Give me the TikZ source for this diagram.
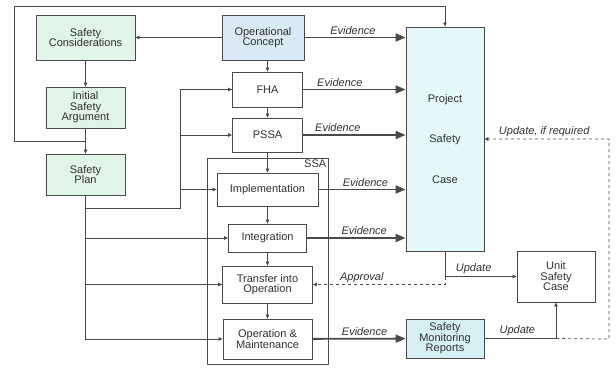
\documentclass[tikz,border=0pt]{standalone}
\usepackage{fontspec}
\setmainfont{Liberation Sans}
\usetikzlibrary{arrows.meta}
\definecolor{linegrey}{HTML}{4A4A4A}
\definecolor{textgrey}{HTML}{303030}
\definecolor{safegreen}{HTML}{E1F4E8}
\definecolor{conceptblue}{HTML}{DAEAF5}
\definecolor{casecyan}{HTML}{E4F8FB}
\definecolor{reportcyan}{HTML}{D6F0F5}
\begin{document}
\begin{tikzpicture}[
  x=1pt, y=-1pt,
  font=\fontsize{11}{10.5}\selectfont, text=textgrey,
  box/.style={draw=linegrey, line width=0.8pt, align=center, inner sep=1pt},
  flow/.style={draw=linegrey, line width=0.7pt, -{Triangle[length=4pt,width=3.5pt]}},
  evid/.style={draw=linegrey, line width=1.8pt, -{Triangle[length=10pt,width=8pt]}},
  upd/.style={draw=linegrey, line width=0.7pt, dashed, -{Triangle[length=4pt,width=3.5pt]}},
  lbl/.style={font=\fontsize{11}{11}\selectfont\itshape, inner sep=2pt}
]
\useasboundingbox (0,0) rectangle (616,367);

\node[box, fill=safegreen, minimum width=99, minimum height=45] (safcon) at (85.5,37.5) {Safety\\Considerations};
\node[box, fill=safegreen, minimum width=79, minimum height=41] (isa) at (85.5,107.5) {Initial\\Safety\\Argument};
\node[box, fill=safegreen, minimum width=79, minimum height=41] (splan) at (85.5,174.5) {Safety\\Plan};

\node[box, fill=conceptblue, minimum width=82, minimum height=45] (opcon) at (263,37.5) {Operational\\Concept};
\node[box, minimum width=70, minimum height=35] (fha) at (267.5,89.5) {FHA};
\node[box, minimum width=70, minimum height=34] (pssa) at (267.5,135) {PSSA};

\node[box, minimum width=121, minimum height=206] (ssa) at (267.5,261) {};
\node[anchor=north east, inner sep=2pt] at (ssa.north east) {SSA};
\node[box, minimum width=101, minimum height=33] (impl) at (267.5,189.5) {Implementation};
\node[box, minimum width=78, minimum height=28] (integ) at (267.5,238) {Integration};
\node[box, minimum width=90, minimum height=37] (transfer) at (267.5,284.5) {Transfer into\\Operation};
\node[box, minimum width=89, minimum height=40] (om) at (267.5,339) {Operation \&\\Maintenance};

\node[box, fill=casecyan, minimum width=78, minimum height=224, align=center] (psc) at (445,139) {Project\\[30pt]Safety\\[30pt]Case};
\node[box, minimum width=78, minimum height=51] (usc) at (556,276.5) {Unit\\Safety\\Case};
\node[box, fill=reportcyan, minimum width=78, minimum height=39] (smr) at (445,338.5) {Safety\\Monitoring\\Reports};

\coordinate (loopjoin) at (85.5,141);
\coordinate (loopcorner) at (14,6);
\coordinate (planbus) at (180,208);
\coordinate (approval) at (445,284.5);
\coordinate (ifreq) at (609,339);

% left-hand chain
\draw[flow] (opcon) -- (safcon);
\draw[flow] (safcon) -- (isa);
\draw[flow] (isa) -- (splan);
\draw[flow] (loopjoin) -| (loopcorner) -| (psc.north);

% development chain
\draw[flow] (opcon.south -| fha) -- (fha);
\draw[flow] (fha) -- (pssa);
\draw[flow] (pssa) -- (impl);
\draw[flow] (impl) -- (integ);
\draw[flow] (integ) -- (transfer);
\draw[flow] (transfer) -- (om);

% safety plan feeds
\draw[flow] (splan.south |- planbus) -- (planbus) |- (fha.west);
\draw[flow] (planbus |- pssa) -- (pssa.west);
\draw[flow] (planbus |- impl) -- (impl.west);
\draw[flow] (splan.south) |- (om.west);
\draw[flow] (splan.south |- integ) -- (integ.west);
\draw[flow] (splan.south |- transfer) -- (transfer.west);

% evidence
\draw[evid] (opcon) -- node[lbl, above, pos=0.48] {Evidence} (opcon -| psc.west);
\draw[evid] (fha) -- node[lbl, above, pos=0.36] {Evidence} (fha -| psc.west);
\draw[evid] (pssa) -- node[lbl, above, pos=0.34] {Evidence} (pssa -| psc.west);
\draw[evid] (impl) -- node[lbl, above, pos=0.54] {Evidence} (impl -| psc.west);
\draw[evid] (integ) -- node[lbl, above, pos=0.58] {Evidence} (integ -| psc.west);
\draw[evid] (om) -- node[lbl, above, pos=0.56] {Evidence} (smr);

% updates
\draw[flow] (psc.south) |- node[lbl, above, pos=0.7] {Update} (usc.west);
\draw[upd] (psc.south |- usc.west) -- (approval) -- node[lbl, above, pos=0.63, inner sep=1pt] {Approval} (transfer.east);
\draw[flow] (smr.east) -| node[lbl, above, pos=0.23] {Update} (usc.south);
\draw[upd] (usc.south |- smr.east) -- (ifreq) |- node[lbl, above, pos=0.76] {Update, if required} (psc.east);
\end{tikzpicture}
\end{document}
